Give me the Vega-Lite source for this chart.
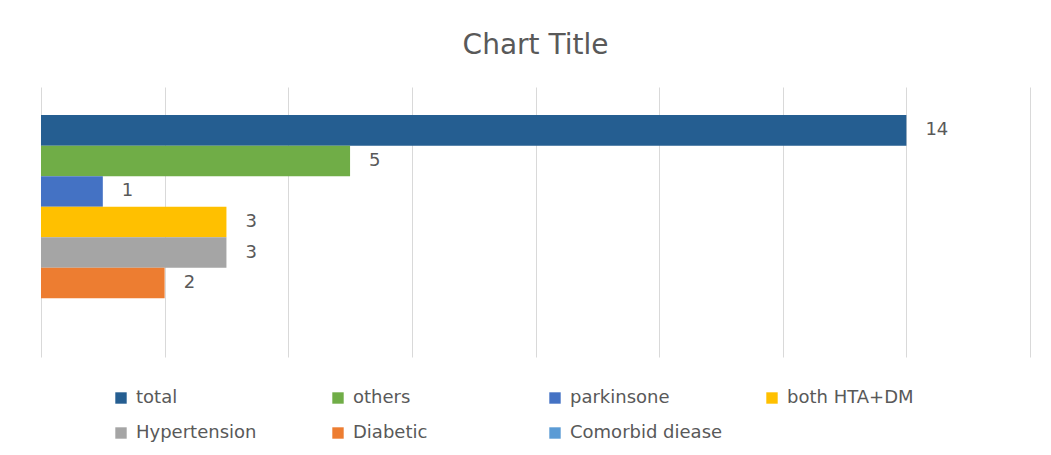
{
  "$schema": "https://vega.github.io/schema/vega-lite/v6.json",
  "background": "white",
  "width": 989,
  "height": 270,
  "padding": {"left": 41, "right": 21, "top": 32, "bottom": 8},
  "title": {
    "text": "Chart Title",
    "font": "DejaVu Sans",
    "fontSize": 28,
    "fontWeight": "normal",
    "color": "#595959",
    "anchor": "middle",
    "offset": 27
  },
  "data": {
    "values": [
      {"series": "total", "value": 14},
      {"series": "others", "value": 5},
      {"series": "parkinsone", "value": 1},
      {"series": "both HTA+DM", "value": 3},
      {"series": "Hypertension", "value": 3},
      {"series": "Diabetic", "value": 2},
      {"series": "Comorbid diease", "value": null}
    ]
  },
  "encoding": {
    "y": {
      "field": "series",
      "type": "nominal",
      "scale": {
        "domain": ["total", "others", "parkinsone", "both HTA+DM", "Hypertension", "Diabetic", "Comorbid diease"],
        "paddingInner": 0,
        "paddingOuter": 0.92
      },
      "axis": null
    },
    "x": {
      "field": "value",
      "type": "quantitative",
      "scale": {"domain": [0, 16], "nice": false, "zero": true},
      "axis": {
        "values": [0, 2, 4, 6, 8, 10, 12, 14, 16],
        "labels": false,
        "ticks": false,
        "domain": false,
        "title": null,
        "grid": true,
        "gridColor": "#d9d9d9",
        "gridWidth": 1
      }
    }
  },
  "layer": [
    {
      "mark": {"type": "bar"},
      "encoding": {
        "color": {
          "field": "series",
          "type": "nominal",
          "scale": {
            "domain": ["total", "others", "parkinsone", "both HTA+DM", "Hypertension", "Diabetic", "Comorbid diease"],
            "range": ["#255E91", "#70AD47", "#4472C4", "#FFC000", "#A5A5A5", "#ED7D31", "#5B9BD5"]
          },
          "legend": {
            "title": null,
            "orient": "none",
            "legendX": 71,
            "legendY": 302,
            "direction": "horizontal",
            "columns": 4,
            "gridAlign": "all",
            "columnPadding": 40,
            "rowPadding": 17,
            "symbolType": "square",
            "symbolSize": 130,
            "symbolStrokeWidth": 0,
            "labelFont": "DejaVu Sans",
            "labelFontSize": 18,
            "labelColor": "#595959",
            "labelOffset": 6,
            "labelLimit": 300
          }
        }
      }
    },
    {
      "mark": {
        "type": "text",
        "align": "left",
        "baseline": "middle",
        "dx": 19,
        "font": "DejaVu Sans",
        "fontSize": 18,
        "color": "#595959"
      },
      "encoding": {
        "text": {"field": "value", "type": "quantitative"}
      }
    }
  ],
  "config": {
    "view": {"stroke": null}
  }
}
